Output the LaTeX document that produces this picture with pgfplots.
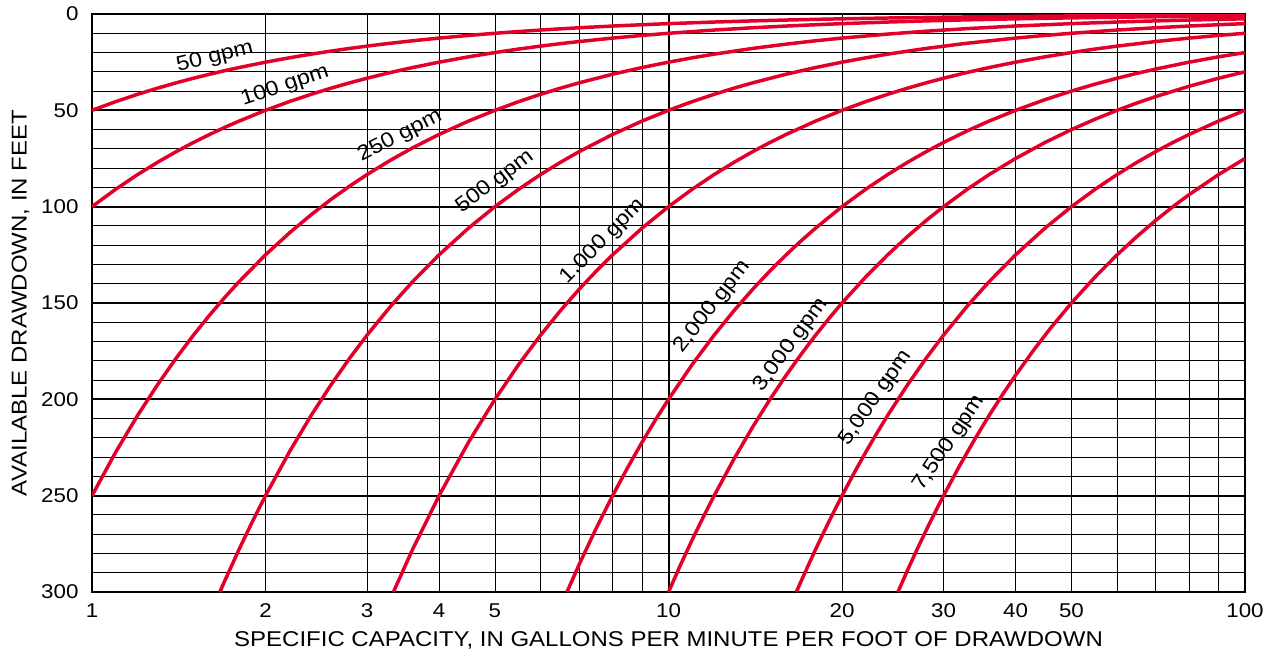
\documentclass[border=0pt]{standalone}
\usepackage{pgfplots}
\pgfplotsset{compat=1.18}
\usepackage{fontspec}
\setmainfont{Liberation Sans}
\newfontfamily\chartfont[FakeStretch=1.12]{Liberation Sans}
\usetikzlibrary{calc}
\definecolor{curvered}{RGB}{226,0,43}
\tikzset{curve/.style={color=curvered, line width=3.5pt, mark=none}}
\begin{document}
\begin{tikzpicture}
\begin{axis}[
  name=ax,
  scale only axis,
  width=1153bp, height=578bp,
  xmode=log, log basis x=10,
  xmin=1, xmax=100, ymin=0, ymax=300,
  y dir=reverse,
  xtick={1,10,100}, xticklabels={1,10,100},
  minor xtick={2,3,4,5,6,7,8,9,20,30,40,50,60,70,80,90},
  extra x ticks={2,3,4,5,20,30,40,50},
  extra x tick labels={2,3,4,5,20,30,40,50},
  extra x tick style={grid=none},
  ytick={0,50,100,150,200,250,300},
  minor ytick={10,20,30,40,60,70,80,90,110,120,130,140,160,170,180,190,210,220,230,240,260,270,280,290},
  major tick length=0pt, minor tick length=0pt,
  grid=both,
  major grid style={black, line width=2pt},
  minor grid style={black, line width=0.9pt},
  axis line style={black, line width=2.6pt},
  tick label style={font=\chartfont\fontsize{20}{20}\selectfont},
  xticklabel style={yshift=-8bp},
  yticklabel style={xshift=-10bp},
  /pgf/number format/assume math mode=true,
  xlabel={SPECIFIC CAPACITY, IN GALLONS PER MINUTE PER FOOT OF DRAWDOWN},
  ylabel={AVAILABLE DRAWDOWN, IN FEET},
  label style={font=\chartfont\fontsize{21.5}{21.5}\selectfont},
  xlabel style={at={(axis description cs:0.5,-0.083)}, anchor=center},
  ylabel style={at={(axis description cs:-0.062,0.5)}, anchor=center},
  clip=true,
]
% 50 gpm
\addplot[curve] coordinates {(1,50)(1.1,45.45)(1.2,41.67)(1.3,38.46)(1.4,35.71)(1.5,33.33)(1.6,31.25)(1.7,29.41)(1.8,27.78)(2,25)(2.2,22.73)(2.4,20.83)(2.6,19.23)(2.8,17.86)(3,16.67)(3.3,15.15)(3.6,13.89)(4,12.5)(4.5,11.11)(5,10)(5.5,9.09)(6,8.33)(6.5,7.69)(7,7.14)(8,6.25)(9,5.56)(10,5)(12,4.17)(14,3.57)(16,3.13)(18,2.78)(20,2.5)(24,2.08)(28,1.79)(33,1.52)(40,1.25)(50,1)(60,0.83)(70,0.71)(80,0.63)(100,0.5)};
% 100 gpm
\addplot[curve] coordinates {(1,100)(1.1,90.91)(1.2,83.33)(1.3,76.92)(1.4,71.43)(1.5,66.67)(1.6,62.5)(1.7,58.82)(1.8,55.56)(2,50)(2.2,45.45)(2.4,41.67)(2.6,38.46)(2.8,35.71)(3,33.33)(3.3,30.30)(3.6,27.78)(4,25)(4.5,22.22)(5,20)(5.5,18.18)(6,16.67)(6.5,15.38)(7,14.29)(8,12.5)(9,11.11)(10,10)(12,8.33)(14,7.14)(16,6.25)(18,5.56)(20,5)(24,4.17)(28,3.57)(33,3.03)(40,2.5)(50,2)(60,1.67)(70,1.43)(80,1.25)(100,1)};
% 250 gpm
\addplot[curve] coordinates {(1,250)(1.1,227.27)(1.2,208.33)(1.3,192.31)(1.4,178.57)(1.5,166.67)(1.6,156.25)(1.7,147.06)(1.8,138.89)(2,125)(2.2,113.64)(2.4,104.17)(2.6,96.15)(2.8,89.29)(3,83.33)(3.3,75.76)(3.6,69.44)(4,62.5)(4.5,55.56)(5,50)(5.5,45.45)(6,41.67)(6.5,38.46)(7,35.71)(8,31.25)(9,27.78)(10,25)(11,22.73)(12,20.83)(14,17.86)(16,15.63)(18,13.89)(20,12.5)(24,10.42)(28,8.93)(33,7.58)(40,6.25)(50,5)(60,4.17)(70,3.57)(80,3.13)(100,2.5)};
% 500 gpm
\addplot[curve] coordinates {(1.6667,300)(1.7,294.12)(1.8,277.78)(1.9,263.16)(2,250)(2.2,227.27)(2.4,208.33)(2.6,192.31)(2.8,178.57)(3,166.67)(3.3,151.52)(3.6,138.89)(4,125)(4.5,111.11)(5,100)(5.5,90.91)(6,83.33)(6.5,76.92)(7,71.43)(8,62.5)(9,55.56)(10,50)(11,45.45)(12,41.67)(13,38.46)(14,35.71)(16,31.25)(18,27.78)(20,25)(22,22.73)(24,20.83)(28,17.86)(33,15.15)(40,12.5)(45,11.11)(50,10)(60,8.33)(70,7.14)(80,6.25)(90,5.56)(100,5)};
% 1000 gpm
\addplot[curve] coordinates {(3.3333,300)(3.6,277.78)(4,250)(4.5,222.22)(5,200)(5.5,181.82)(6,166.67)(6.5,153.85)(7,142.86)(7.5,133.33)(8,125)(9,111.11)(10,100)(11,90.91)(12,83.33)(13,76.92)(14,71.43)(15,66.67)(16,62.5)(18,55.56)(20,50)(22,45.45)(24,41.67)(26,38.46)(28,35.71)(30,33.33)(33,30.30)(36,27.78)(40,25)(45,22.22)(50,20)(55,18.18)(60,16.67)(70,14.29)(80,12.5)(90,11.11)(100,10)};
% 2000 gpm
\addplot[curve] coordinates {(6.6667,300)(7,285.71)(7.5,266.67)(8,250)(8.5,235.29)(9,222.22)(9.5,210.53)(10,200)(11,181.82)(12,166.67)(13,153.85)(14,142.86)(15,133.33)(16,125)(17,117.65)(18,111.11)(20,100)(22,90.91)(24,83.33)(26,76.92)(28,71.43)(30,66.67)(33,60.61)(36,55.56)(40,50)(45,44.44)(50,40)(55,36.36)(60,33.33)(65,30.77)(70,28.57)(80,25)(90,22.22)(100,20)};
% 3000 gpm
\addplot[curve] coordinates {(10,300)(10.5,285.71)(11,272.73)(11.5,260.87)(12,250)(13,230.77)(14,214.29)(15,200)(16,187.5)(17,176.47)(18,166.67)(19,157.89)(20,150)(22,136.36)(24,125)(26,115.38)(28,107.14)(30,100)(33,90.91)(36,83.33)(40,75)(45,66.67)(50,60)(55,54.55)(60,50)(65,46.15)(70,42.86)(80,37.5)(90,33.33)(100,30)};
% 5000 gpm
\addplot[curve] coordinates {(16.6667,300)(17,294.12)(18,277.78)(19,263.16)(20,250)(21,238.10)(22,227.27)(23,217.39)(24,208.33)(26,192.31)(28,178.57)(30,166.67)(33,151.52)(36,138.89)(40,125)(45,111.11)(50,100)(55,90.91)(60,83.33)(65,76.92)(70,71.43)(75,66.67)(80,62.5)(90,55.56)(100,50)};
% 7500 gpm
\addplot[curve] coordinates {(25,300)(26,288.46)(27,277.78)(28,267.86)(29,258.62)(30,250)(32,234.38)(34,220.59)(36,208.33)(38,197.37)(40,187.5)(43,174.42)(46,163.04)(50,150)(55,136.36)(60,125)(65,115.38)(70,107.14)(75,100)(80,93.75)(90,83.33)(100,75)};

\begin{scope}[every node/.style={font=\chartfont\fontsize{21}{21}\selectfont, inner sep=0pt}]
\node[rotate=13.5] at (axis cs:1.634,22.4) {50 gpm};
\node[rotate=18.5] at (axis cs:2.162,37.4) {100 gpm};
\node[rotate=27] at (axis cs:3.422,63.3) {250 gpm};
\node[rotate=37] at (axis cs:5.0,87.2) {500 gpm};
\node[rotate=45] at (axis cs:7.7,118.0) {1,000 gpm};
\node[rotate=52] at (axis cs:11.9,152.0) {2,000 gpm};
\node[rotate=54] at (axis cs:16.3,171.8) {3,000 gpm};
\node[rotate=55] at (axis cs:22.9,199.3) {5,000 gpm};
\node[rotate=56] at (axis cs:30.7,222.7) {7,500 gpm};
\end{scope}
\end{axis}
\pgfresetboundingbox
\path[use as bounding box] ($(ax.south west)+(-92bp,-64bp)$) rectangle ($(ax.north east)+(26bp,14bp)$);
\end{tikzpicture}
\end{document}
